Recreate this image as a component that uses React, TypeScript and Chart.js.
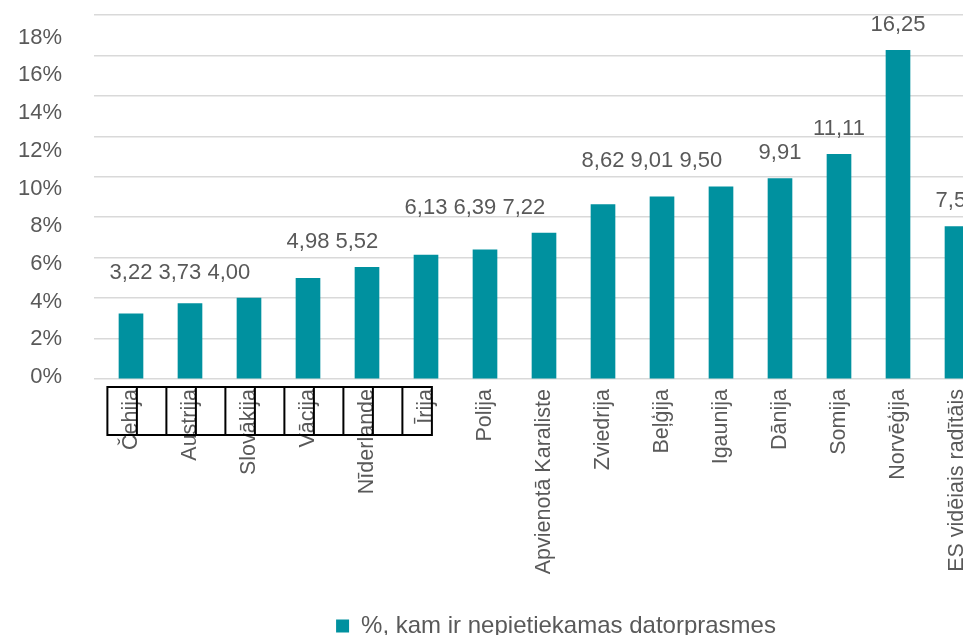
import React, { useEffect, useRef } from 'react';
import { Chart, registerables } from 'chart.js';

Chart.register(...registerables);

const categories = [
  'Čehija', 'Austrija', 'Slovākija', 'Vācija', 'Nīderlande', 'Īrija', 'Polija',
  'Apvienotā Karaliste', 'Zviedrija', 'Beļģija', 'Igaunija', 'Dānija', 'Somija',
  'Norvēģija', 'ES vidējais radītājs',
];
const values = [3.22, 3.73, 4.0, 4.98, 5.52, 6.13, 6.39, 7.22, 8.62, 9.01, 9.5, 9.91, 11.11, 16.25, 7.54];
const seriesName = '%, kam ir nepietiekamas datorprasmes';
const yTickValues = [0, 2, 4, 6, 8, 10, 12, 14, 16, 18];
const labelGroups = [[0, 1, 2], [3, 4], [5, 6, 7], [8, 9, 10], [11], [12], [13], [14]];
const boxedCount = 6;

const FONT = '"Liberation Sans", Arial, sans-serif';
const TEXT = '#595959';
const BAR = '#00919F';
const GRID = '#d9d9d9';

const fmt = (v: number) => v.toFixed(2).replace('.', ',');

const groupLabelPlugin = {
  id: 'groupLabels',
  afterDatasetsDraw(chart: any) {
    const ctx = chart.ctx;
    const meta = chart.getDatasetMeta(0);
    const ys = chart.scales.y;
    ctx.save();
    ctx.font = `22px ${FONT}`;
    ctx.fillStyle = TEXT;
    ctx.textBaseline = 'middle';
    ctx.textAlign = 'left';
    labelGroups.forEach((g) => {
      const texts = g.map((i) => fmt(values[i]));
      const maxV = Math.max(...g.map((i) => values[i]));
      const y = ys.getPixelForValue(maxV) - 25.5;
      const x0 = meta.data[g[0]].x - ctx.measureText(texts[0]).width / 2;
      ctx.fillText(texts.join(' '), x0, y);
    });
    ctx.restore();
  },
};

const boxPlugin = {
  id: 'labelBoxes',
  afterDraw(chart: any) {
    const ctx = chart.ctx;
    const xs = chart.scales.x;
    const top = chart.chartArea.bottom + 8;
    const bottom = top + 48;
    const n = boxedCount * 2;
    const xsPix: number[] = [];
    for (let k = 0; k < n; k++) xsPix.push(xs.getPixelForValue(-0.4 + 0.5 * k));
    ctx.save();
    ctx.strokeStyle = '#000';
    ctx.lineWidth = 2;
    ctx.beginPath();
    ctx.moveTo(xsPix[0] - 1, top);
    ctx.lineTo(xsPix[n - 1] + 1, top);
    ctx.moveTo(xsPix[0] - 1, bottom);
    ctx.lineTo(xsPix[n - 1] + 1, bottom);
    xsPix.forEach((x) => {
      ctx.moveTo(x, top);
      ctx.lineTo(x, bottom);
    });
    ctx.stroke();
    ctx.restore();
  },
};

const W = 1096;
const H = 640;

export default function App() {
  const ref = useRef<HTMLCanvasElement>(null);

  useEffect(() => {
    document.documentElement.style.overflow = 'hidden';
    document.body.style.overflow = 'hidden';
    if (!ref.current) return;
    Chart.defaults.font.family = FONT;
    const chart = new Chart(ref.current, {
      type: 'bar',
      data: {
        datasets: [
          {
            label: seriesName,
            data: values.map((v, i) => ({ x: i, y: v })),
            backgroundColor: BAR,
            borderWidth: 0,
            barThickness: 24,
          },
        ],
      },
      options: {
        responsive: false,
        animation: false,
        layout: { padding: { top: 7, left: 0, right: 0, bottom: 0 } },
        plugins: {
          tooltip: { enabled: false },
          legend: {
            position: 'bottom',
            labels: {
              boxWidth: 13,
              boxHeight: 13,
              color: TEXT,
              font: { size: 24, family: FONT },
            },
          },
        },
        scales: {
          x: {
            type: 'linear',
            offset: false,
            min: -0.627,
            max: (W + 8 - 131) / 59,
            grid: { display: false, drawTicks: false, offset: false },
            border: { display: false },
            afterBuildTicks: (axis: any) => {
              axis.ticks = categories.map((_, i) => ({ value: i }));
            },
            afterFit: (axis: any) => {
              axis.height = 225;
            },
            ticks: {
              autoSkip: false,
              minRotation: 90,
              maxRotation: 90,
              padding: 10,
              color: TEXT,
              font: { size: 21.5, family: FONT },
              callback: (v: any) => categories[Math.round(Number(v))] ?? '',
            },
          },
          y: {
            position: 'left',
            min: 0,
            max: 18,
            ticks: { display: false, stepSize: 2 },
            grid: { color: GRID, lineWidth: 1.5, drawTicks: false },
            border: { display: false },
            afterFit: (axis: any) => {
              axis.width = 0;
            },
          },
          y2: {
            position: 'left',
            min: -0.1,
            max: 19.2,
            grid: { display: false, drawTicks: true, tickLength: 32 },
            border: { display: false },
            afterBuildTicks: (axis: any) => {
              axis.ticks = yTickValues.map((v) => ({ value: v }));
            },
            afterFit: (axis: any) => {
              axis.width = 86;
            },
            ticks: {
              padding: 0,
              color: TEXT,
              font: { size: 22, family: FONT, lineHeight: 0.5 },
              callback: (v: any) => `${v}%`,
            },
          },
        },
      },
      plugins: [groupLabelPlugin, boxPlugin],
    } as any);
    return () => chart.destroy();
  }, []);

  return (
    <div style={{ width: W, height: H }}>
      <canvas ref={ref} width={W} height={H} style={{ width: W, height: H, display: 'block' }} />
    </div>
  );
}
